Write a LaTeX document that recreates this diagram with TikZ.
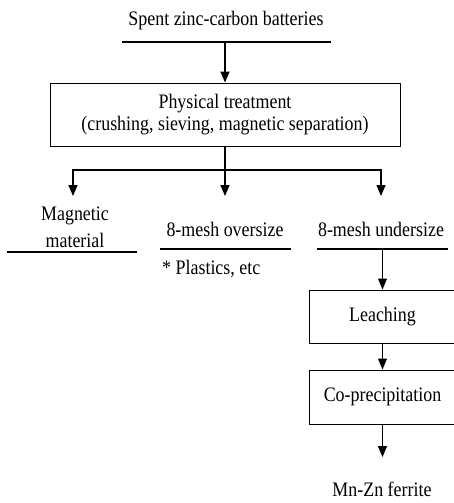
\documentclass[tikz,border=0pt]{standalone}
\usepackage{fontspec}
\setmainfont{Liberation Serif}[FakeStretch=0.87]
\usetikzlibrary{arrows.meta}
\begin{document}
\begin{tikzpicture}[x=1pt,y=-1pt,
  txt/.style={font=\fontsize{20.6}{22}\selectfont, align=center, inner sep=0pt},
  stage/.style={draw, line width=1pt, font=\fontsize{20.6}{22}\selectfont, align=center, inner sep=0pt},
  rule/.style={line width=2.4pt},
  arr/.style={line width=1.3pt, -{Triangle[width=9pt,length=11pt]}}]
\useasboundingbox (0,0) rectangle (454,503);
\clip (0,0) rectangle (454,503);
% raw material
\node[txt] (spent) at (226,21) {Spent zinc-carbon batteries};
\draw[rule] (122,42) coordinate (spentL) -- (331,42) coordinate (spentR);
\coordinate (spentout) at (225,42);
\node[stage, minimum width=350pt, minimum height=63pt] (phys) at (225,114.5)
  {Physical treatment\\(crushing, sieving, magnetic separation)};
\draw[arr] (spentout) -- (phys.north);
% split into three fractions
\coordinate (split) at (225,170);
\coordinate (magin) at (73,196);
\coordinate (overin) at (225,196);
\coordinate (underin) at (381,196);
\draw[line width=1.3pt] (phys.south) -- (split);
\draw[arr] (split) -| (magin);
\draw[arr] (split) -- (overin);
\draw[arr] (split) -| (underin);
\node[txt, font=\fontsize{20.6}{27}\selectfont] (mag) at (75,227) {Magnetic\\material};
\draw[rule] (7,252) -- (137,252);
\node[txt] (over) at (225,229) {8-mesh oversize};
\draw[rule] (160,249) -- (291,249);
\node[txt, anchor=west] (plastic) at (162,269) {* Plastics, etc};
\node[txt] (under) at (381,229) {8-mesh undersize};
\draw[rule] (317,249) -- (448,249);
\coordinate (underout) at (382.5,249);
% wet processing
\node[stage, minimum width=147pt, minimum height=53pt] (leach) at (382.5,316.5) {Leaching};
\node[stage, minimum width=147pt, minimum height=54pt] (coprec) at (382.5,397) {Co-precipitation};
\node[txt] (ferrite) at (382,489) {Mn-Zn ferrite};
\coordinate (ferritein) at (382.5,457);
\draw[arr] (underout) -- (leach.north);
\draw[arr] (leach.south) -- (coprec.north);
\draw[arr] (coprec.south) -- (ferritein);
\end{tikzpicture}
\end{document}
